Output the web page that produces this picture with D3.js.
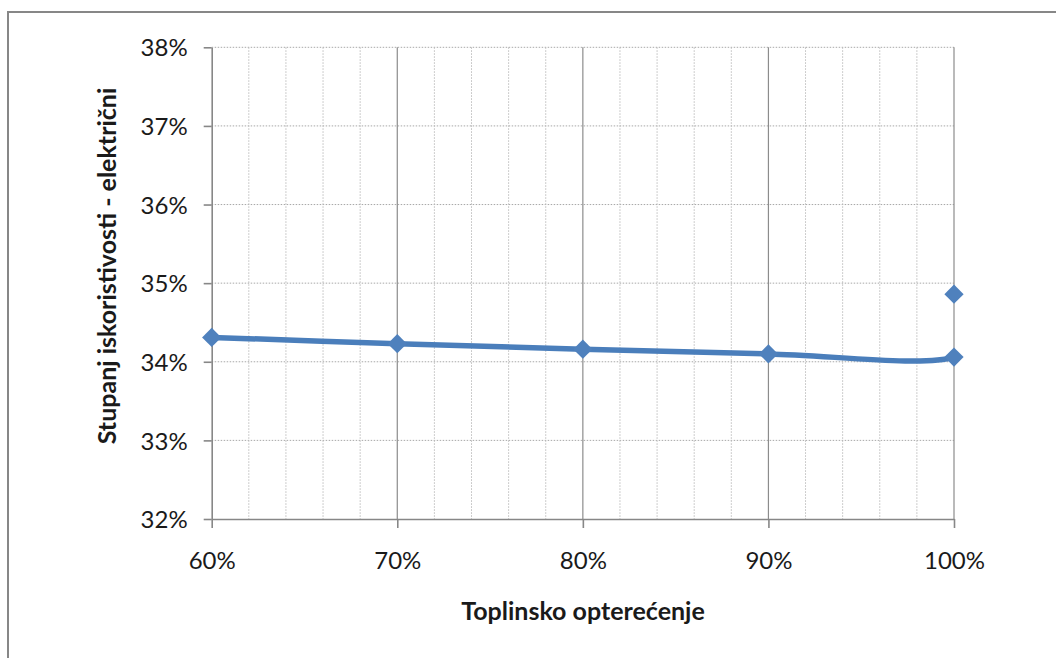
<!DOCTYPE html>
<html>
<head>
<meta charset="utf-8">
<script src="https://cdn.jsdelivr.net/npm/d3@7"></script>
<style>
  body { margin: 0; background: #fff; }
  svg { display: block; }
  text { font-family: Lato, "Open Sans", sans-serif; fill: #1a1a1a; }
</style>
</head>
<body>
<svg id="chart" width="1056" height="658"></svg>
<script>
// Electrical efficiency vs. heat load
const loads      = [0.60, 0.70, 0.80, 0.90, 1.00, 1.00];
const efficiency = [0.3431, 0.3423, 0.3416, 0.3410, 0.3406, 0.3486];
// the last point is shown as a marker only; its segment has no line
const hiddenSegments = 1;

const xMajorTicks = [0.60, 0.70, 0.80, 0.90, 1.00];
const xMinorTicks = [0.62, 0.64, 0.66, 0.68, 0.72, 0.74, 0.76, 0.78,
                     0.82, 0.84, 0.86, 0.88, 0.92, 0.94, 0.96, 0.98];
const yTicks      = [0.32, 0.33, 0.34, 0.35, 0.36, 0.37, 0.38];

const xTitle = "Toplinsko opterećenje";
const yTitle = "Stupanj iskoristivosti - električni";

const svg = d3.select("#chart");
const plot = { left: 211.7, right: 954, top: 47.3, bottom: 519 };

const x = d3.scaleLinear().domain([0.60, 1.00]).range([plot.left, plot.right]);
const y = d3.scaleLinear().domain([0.32, 0.38]).range([plot.bottom, plot.top]);

// chart frame
svg.append("rect")
  .attr("x", 8).attr("y", 12)
  .attr("width", 1200).attr("height", 800)
  .attr("fill", "#fff")
  .attr("stroke", "#878787").attr("stroke-width", 2);

const grid = svg.append("g");

// horizontal dotted gridlines
grid.selectAll("line.h")
  .data(yTicks.filter(d => d > 0.32))
  .join("line")
  .attr("x1", plot.left).attr("x2", plot.right)
  .attr("y1", d => y(d)).attr("y2", d => y(d))
  .attr("stroke", "#a8a8a8").attr("stroke-width", 1)
  .attr("stroke-dasharray", "1.5,1.5");

// vertical minor dotted gridlines
grid.selectAll("line.vminor")
  .data(xMinorTicks)
  .join("line")
  .attr("x1", d => x(d)).attr("x2", d => x(d))
  .attr("y1", plot.top).attr("y2", plot.bottom)
  .attr("stroke", "#bdbdbd").attr("stroke-width", 1)
  .attr("stroke-dasharray", "1.5,1.5");

// vertical major gridlines
grid.selectAll("line.vmajor")
  .data(xMajorTicks.filter(d => d > 0.60))
  .join("line")
  .attr("x1", d => x(d)).attr("x2", d => x(d))
  .attr("y1", plot.top).attr("y2", plot.bottom)
  .attr("stroke", "#8c8c8c").attr("stroke-width", 1.2);

// axes
const pct = d3.format(".0%");

const yAxis = svg.append("g")
  .attr("transform", `translate(${plot.left},0)`)
  .call(d3.axisLeft(y).tickValues(yTicks).tickFormat(pct)
    .tickSizeInner(8).tickSizeOuter(0).tickPadding(16));

const xAxis = svg.append("g")
  .attr("transform", `translate(0,${plot.bottom})`)
  .call(d3.axisBottom(x).tickValues(xMajorTicks).tickFormat(pct)
    .tickSizeInner(9).tickSizeOuter(0).tickPadding(24));

[yAxis, xAxis].forEach(g => {
  g.select(".domain").attr("stroke", "#878787").attr("stroke-width", 1.6);
  g.selectAll(".tick line").attr("stroke", "#878787").attr("stroke-width", 1.6);
  g.selectAll(".tick text")
    .style("font-family", "Lato, 'Open Sans', sans-serif")
    .style("font-size", "24px")
    .attr("fill", "#1a1a1a");
});
yAxis.selectAll(".tick text").attr("dy", "0.36em");

// smoothed series line: record the curve's segments, drop the hidden ones
const pts = loads.map((l, i) => [x(l), y(efficiency[i])]);
const recorder = {
  start: null, segs: [],
  moveTo(px, py) { this.start = [px, py]; },
  lineTo(px, py) { this.segs.push(["L", px, py]); },
  bezierCurveTo(a, b, c, d, px, py) { this.segs.push(["C", a, b, c, d, px, py]); },
  closePath() {}
};
d3.line().curve(d3.curveCardinal.tension(0)).context(recorder)(pts);

const linePath = d3.path();
linePath.moveTo(recorder.start[0], recorder.start[1]);
recorder.segs.slice(0, recorder.segs.length - hiddenSegments).forEach(s => {
  if (s[0] === "C") linePath.bezierCurveTo(s[1], s[2], s[3], s[4], s[5], s[6]);
  else linePath.lineTo(s[1], s[2]);
});

svg.append("path")
  .attr("d", linePath.toString())
  .attr("fill", "none")
  .attr("stroke", "#4a7ebb")
  .attr("stroke-width", 5.5)
  .attr("stroke-linejoin", "round")
  .attr("stroke-linecap", "round");

// diamond markers
const diamond = d3.symbol().type(d3.symbolSquare).size(185);
svg.selectAll("path.marker")
  .data(pts)
  .join("path")
  .attr("class", "marker")
  .attr("d", diamond)
  .attr("transform", d => `translate(${d[0]},${d[1]}) rotate(45)`)
  .attr("fill", "#4f81bd");

// axis titles
svg.append("text")
  .attr("x", 583).attr("y", 620)
  .attr("text-anchor", "middle")
  .style("font-size", "25px").style("font-weight", "bold")
  .text(xTitle);

svg.append("text")
  .attr("transform", "translate(116,266) rotate(-90)")
  .attr("text-anchor", "middle")
  .style("font-size", "25px").style("font-weight", "bold")
  .text(yTitle);
</script>
</body>
</html>
